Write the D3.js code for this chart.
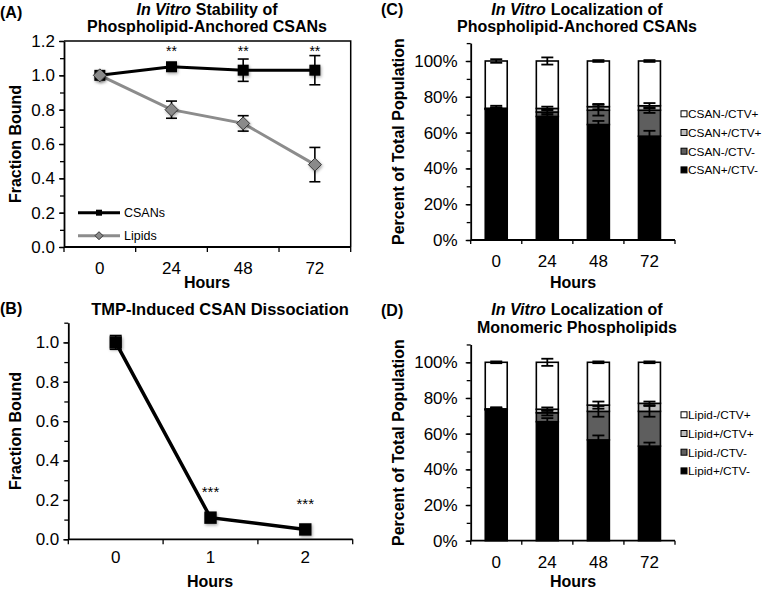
<!DOCTYPE html>
<html><head><meta charset="utf-8">
<script src="https://cdn.jsdelivr.net/npm/d3@7"></script>
<style>
body{margin:0;background:#fff}
svg{display:block}
text{font-family:"Liberation Sans", Arial, Helvetica, sans-serif}
</style>
</head><body>
<svg id="chart" width="767" height="591"></svg>
<script>
// ---------- DATA ----------
// Panel A
const hoursA = ["0", "24", "48", "72"];
const csanA = [1.00, 1.05, 1.03, 1.03];
const csanAErr = [0.01, 0.01, 0.065, 0.085];
const lipidA = [1.00, 0.80, 0.72, 0.48];
const lipidAErr = [0.0, 0.05, 0.045, 0.10];
const starsA = ["", "**", "**", "**"];
const yTicksA = [0, 0.2, 0.4, 0.6, 0.8, 1.0, 1.2];

// Panel B
const hoursB = ["0", "1", "2"];
const csanB = [1.00, 0.11, 0.05];
const csanBErr = [0.035, 0.01, 0.01];
const starsB = ["", "***", "***"];
const yTicksB = [0, 0.2, 0.4, 0.6, 0.8, 1.0];

// Panels C and D (percent, stacked bottom -> top)
const hoursCD = ["0", "24", "48", "72"];
const yTicksCD = [0, 0.2, 0.4, 0.6, 0.8, 1.0];
const legendC = ["CSAN-/CTV+", "CSAN+/CTV+", "CSAN-/CTV-", "CSAN+/CTV-"];
const legendD = ["Lipid-/CTV+", "Lipid+/CTV+", "Lipid-/CTV-", "Lipid+/CTV-"];
// C: CSAN+/CTV- (black), CSAN-/CTV- (dark grey), CSAN+/CTV+ (light grey), CSAN-/CTV+ (white)
const cPosNeg = [73, 69, 64.5, 58];
const cNegNeg = [0.3, 2.5, 8, 14.5];
const cPosPos = [0.3, 2, 2, 2.5];
const cNegPos = [26.4, 26.5, 25.5, 25];
const cPosNegErr = [2, 2, 2, 3];
const cNegNegErr = [0.5, 1.5, 3, 1.5];
const cPosPosErr = [0.5, 1, 1.5, 1.5];
const cNegPosErr = [1, 2, 0.5, 0.5];
// D
const dPosNeg = [73.3, 66.7, 56.5, 53];
const dNegNeg = [0.3, 5, 16, 19.5];
const dPosPos = [0.3, 2, 3.5, 4.5];
const dNegPos = [26.1, 26.3, 24, 23];
const dPosNegErr = [1.5, 2, 2.5, 2];
const dNegNegErr = [0.5, 1.5, 3, 3];
const dPosPosErr = [0.5, 1, 2, 1];
const dNegPosErr = [0.5, 2, 0.5, 0.5];

const segColors = ["#000000", "#5e5e5e", "#bdbdbd", "#ffffff"]; // bottom -> top
const legendColors = ["#ffffff", "#bdbdbd", "#5e5e5e", "#000000"];

// ---------- DRAW ----------
const svg = d3.select("#chart");
const defs = svg.append("defs");
const f = defs.append("filter").attr("id", "shadow").attr("x", "-50%").attr("y", "-50%").attr("width", "200%").attr("height", "200%");
f.append("feDropShadow").attr("dx", 1).attr("dy", 1.5).attr("stdDeviation", 1.6)
  .attr("flood-color", "#000").attr("flood-opacity", 0.35);

function bold(g, x, y, txt, size, anchor = "middle") {
  return g.append("text").attr("x", x).attr("y", y).attr("text-anchor", anchor)
    .attr("font-size", size).attr("font-weight", "bold").attr("fill", "#000").text(txt);
}
function titleWithItalic(g, x, y, ital, rest, size) {
  // two separate texts placed side by side with a word gap, centred together on x
  const a = g.append("text").attr("y", y).attr("font-size", size).attr("font-weight", "bold")
    .attr("font-style", "italic").text(ital);
  const b = g.append("text").attr("y", y).attr("font-size", size).attr("font-weight", "bold").text(rest);
  const wa = a.node().getComputedTextLength();
  const wb = b.node().getComputedTextLength();
  const gap = size * 0.3;
  const start = x - (wa + gap + wb) / 2;
  a.attr("x", start);
  b.attr("x", start + wa + gap);
}

function yAxis(g, y, x0, ticks, fmt, top, minorStep, fs, pad) {
  const minor = d3.range(0, top + 1e-9, minorStep);
  g.append("g").attr("transform", `translate(${x0},0)`)
    .call(d3.axisLeft(y).tickValues(minor).tickSize(4).tickFormat(""))
    .call(s => s.select(".domain").remove())
    .call(s => s.selectAll("line").attr("stroke", "#000").attr("stroke-width", 1.3));
  g.append("g").attr("transform", `translate(${x0},0)`)
    .call(d3.axisLeft(y).tickValues(ticks).tickSize(5).tickSizeOuter(0).tickPadding(pad).tickFormat(fmt))
    .call(s => s.select(".domain").attr("stroke", "#000").attr("stroke-width", 1.8))
    .call(s => s.selectAll("line").attr("stroke", "#000").attr("stroke-width", 1.3))
    .call(s => s.selectAll("text").attr("font-size", fs).attr("fill", "#000")
      .attr("font-family", '"Liberation Sans", Arial, sans-serif'));
}
function xAxis(g, x, y0, fs, labelPad) {
  const r = x.range();
  g.append("line").attr("x1", r[0]).attr("x2", r[1]).attr("y1", y0).attr("y2", y0)
    .attr("stroke", "#000").attr("stroke-width", 1.8);
  const step = x.step();
  const starts = x.domain().map((d, i) => r[0] + i * step).concat([r[1]]);
  g.selectAll(null).data(starts).join("line")
    .attr("x1", d => d).attr("x2", d => d).attr("y1", y0).attr("y2", y0 + 5)
    .attr("stroke", "#000").attr("stroke-width", 1.3);
  g.selectAll(null).data(x.domain()).join("text")
    .attr("x", d => x(d) + x.bandwidth() / 2).attr("y", y0 + labelPad)
    .attr("text-anchor", "middle").attr("font-size", fs).attr("fill", "#000").text(d => d);
}
function errBar(g, cx, yTop, yBot, cap, w) {
  g.append("line").attr("x1", cx).attr("x2", cx).attr("y1", yTop).attr("y2", yBot).attr("stroke", "#000").attr("stroke-width", w);
  g.append("line").attr("x1", cx - cap / 2).attr("x2", cx + cap / 2).attr("y1", yTop).attr("y2", yTop).attr("stroke", "#000").attr("stroke-width", w);
  g.append("line").attr("x1", cx - cap / 2).attr("x2", cx + cap / 2).attr("y1", yBot).attr("y2", yBot).attr("stroke", "#000").attr("stroke-width", w);
}

// ===== Panel A =====
{
  const g = svg.append("g");
  const x = d3.scaleBand().domain(hoursA).range([64, 350.7]).padding(0);
  const y = d3.scaleLinear().domain([0, 1.2]).range([247, 41]);
  const cx = d => x(d) + x.bandwidth() / 2;
  g.append("path").attr("d", `M${x.range()[0]},${y(1.2)}H${x.range()[1]}V${y(0)}`)
    .attr("fill", "none").attr("stroke", "#000").attr("stroke-width", 1.5);
  yAxis(g, y, 64, yTicksA, d3.format(".1f"), 1.2, 0.1, 17, 4);
  xAxis(g, x, 247, 17, 27);
  bold(g, 207, 288, "Hours", 16);
  bold(g, 0, 0, "Fraction Bound", 16).attr("transform", `translate(21,${(41 + 247) / 2}) rotate(-90)`);
  bold(g, 0, 18, "(A)", 16, "start");
  titleWithItalic(g, 207, 14.5, "In Vitro", "Stability of", 16);
  bold(g, 207, 32, "Phospholipid-Anchored CSANs", 16);

  const line = d3.line().x((d, i) => cx(hoursA[i])).y(d => y(d));
  g.append("path").datum(lipidA).attr("d", line).attr("fill", "none").attr("stroke", "#8c8c8c").attr("stroke-width", 3);
  g.append("path").datum(csanA).attr("d", line).attr("fill", "none").attr("stroke", "#000").attr("stroke-width", 3);
  hoursA.forEach((h, i) => {
    if (csanAErr[i] > 0.012) errBar(g, cx(h), y(csanA[i] + csanAErr[i]), y(csanA[i] - csanAErr[i]), 11, 1.6);
    if (lipidAErr[i] > 0) errBar(g, cx(h), y(lipidA[i] + lipidAErr[i]), y(lipidA[i] - lipidAErr[i]), 11, 1.6);
  });
  g.selectAll(null).data(csanA).join("rect")
    .attr("x", (d, i) => cx(hoursA[i]) - 5.5).attr("y", d => y(d) - 5.5).attr("width", 11).attr("height", 11)
    .attr("fill", "#000").attr("filter", "url(#shadow)");
  g.selectAll(null).data(lipidA).join("path")
    .attr("d", (d, i) => { const X = cx(hoursA[i]), Y = y(d); return `M${X},${Y - 6.5}L${X + 6.5},${Y}L${X},${Y + 6.5}L${X - 6.5},${Y}Z`; })
    .attr("fill", "#8a8a8a").attr("stroke", "#333").attr("stroke-width", 1).attr("filter", "url(#shadow)");
  g.selectAll(null).data(starsA).join("text")
    .attr("x", (d, i) => cx(hoursA[i])).attr("y", y(1.15) + 6)
    .attr("text-anchor", "middle").attr("font-size", 14).attr("fill", "#000").text(d => d);
  const lg = g.append("g");
  lg.append("line").attr("x1", 78).attr("x2", 120).attr("y1", 212.7).attr("y2", 212.7).attr("stroke", "#000").attr("stroke-width", 3);
  lg.append("rect").attr("x", 96).attr("y", 209.7).attr("width", 6).attr("height", 6).attr("fill", "#000");
  lg.append("line").attr("x1", 78).attr("x2", 120).attr("y1", 235.7).attr("y2", 235.7).attr("stroke", "#8c8c8c").attr("stroke-width", 3);
  lg.append("path").attr("d", "M99,231.7L103,235.7L99,239.7L95,235.7Z").attr("fill", "#8a8a8a").attr("stroke", "#333").attr("stroke-width", 1);
  lg.append("text").attr("x", 124).attr("y", 217).attr("font-size", 12.5).text("CSANs");
  lg.append("text").attr("x", 124).attr("y", 240).attr("font-size", 12.5).text("Lipids");
}

// ===== Panel B =====
{
  const g = svg.append("g");
  const x = d3.scaleBand().domain(hoursB).range([68.3, 352.7]).padding(0);
  const y = d3.scaleLinear().domain([0, 1.1]).range([539.3, 322.7]);
  const cx = d => x(d) + x.bandwidth() / 2;
  yAxis(g, y, 68.3, yTicksB, d3.format(".1f"), 1.1, 0.1, 17, 4);
  xAxis(g, x, 539.3, 17, 24);
  bold(g, 210, 587, "Hours", 16);
  bold(g, 0, 0, "Fraction Bound", 16).attr("transform", `translate(21,${(322.7 + 539.3) / 2}) rotate(-90)`);
  bold(g, 0, 314, "(B)", 16, "start");
  bold(g, 220, 315, "TMP-Induced CSAN Dissociation", 16.5);
  const line = d3.line().x((d, i) => cx(hoursB[i])).y(d => y(d));
  g.append("path").datum(csanB).attr("d", line).attr("fill", "none").attr("stroke", "#000").attr("stroke-width", 3.5);
  hoursB.forEach((h, i) => {
    if (csanBErr[i] > 0.012) errBar(g, cx(h), y(csanB[i] + csanBErr[i]), y(csanB[i] - csanBErr[i]), 12, 1.6);
  });
  g.selectAll(null).data(csanB).join("rect")
    .attr("x", (d, i) => cx(hoursB[i]) - 6.2).attr("y", d => y(d) - 6.2).attr("width", 12.4).attr("height", 12.4)
    .attr("fill", "#000").attr("filter", "url(#shadow)");
  g.selectAll(null).data(starsB).join("text")
    .attr("x", (d, i) => cx(hoursB[i])).attr("y", (d, i) => y(csanB[i] + 0.14) + 7)
    .attr("text-anchor", "middle").attr("font-size", 15).attr("fill", "#000").text(d => d);
}

// ===== Panels C & D =====
function stackPanel(y0, y100, segs, errs, legend, letter, t1rest, t2, legY) {
  const g = svg.append("g");
  const x = d3.scaleBand().domain(hoursCD).range([470.7, 675]).paddingInner(0.57).paddingOuter(0.285);
  const y = d3.scaleLinear().domain([0, 1.1]).range([y0, y0 - (y0 - y100) * 1.1]);
  yAxis(g, y, 470.7, yTicksCD, d3.format(".0%"), 1.1, 0.1, 17, 8);
  const step = x.step();
  const r = x.range();
  g.append("line").attr("x1", r[0]).attr("x2", r[1]).attr("y1", y0).attr("y2", y0).attr("stroke", "#000").attr("stroke-width", 1.8);
  g.selectAll(null).data(d3.range(hoursCD.length + 1)).join("line")
    .attr("x1", i => r[0] + i * step).attr("x2", i => r[0] + i * step).attr("y1", y0).attr("y2", y0 + 4)
    .attr("stroke", "#000").attr("stroke-width", 1.3);
  g.selectAll(null).data(hoursCD).join("text")
    .attr("x", d => x(d) + x.bandwidth() / 2).attr("y", y0 + 27)
    .attr("text-anchor", "middle").attr("font-size", 17).attr("fill", "#000").text(d => d);
  bold(g, 573, Math.min(y0 + 48, 587), "Hours", 16);
  bold(g, 0, 0, "Percent of Total Population", 16).attr("transform", `translate(404,${(y0 + y(1.1)) / 2}) rotate(-90)`);
  bold(g, 381, y0 - 225, letter, 16, "start");
  titleWithItalic(g, 577, y0 - 225.5, "In Vitro", t1rest, 16);
  bold(g, 577, y0 - 208, t2, 16);

  const rows = hoursCD.map((h, i) => {
    const o = { h };
    segs.forEach((s, k) => o["s" + k] = s[i] / 100);
    return o;
  });
  const keys = segs.map((s, k) => "s" + k);
  const stacked = d3.stack().keys(keys)(rows);
  stacked.forEach((layer, k) => {
    g.selectAll(null).data(layer).join("rect")
      .attr("x", d => x(d.data.h)).attr("width", x.bandwidth())
      .attr("y", d => y(d[1])).attr("height", d => y(d[0]) - y(d[1]))
      .attr("fill", segColors[k]).attr("stroke", "#000").attr("stroke-width", 1.6);
  });
  stacked.forEach((layer, k) => {
    layer.forEach((d, i) => {
      const e = errs[k][i] / 100;
      const cx = x(d.data.h) + x.bandwidth() / 2;
      errBar(g, cx, y(d[1] + e), y(d[1] - e), 12, 1.8);
    });
  });
  const lg = g.append("g");
  legend.forEach((txt, i) => {
    const yy = legY + i * 18.7;
    lg.append("rect").attr("x", 681).attr("y", yy - 3.2).attr("width", 6).attr("height", 6)
      .attr("fill", legendColors[i]).attr("stroke", "#000").attr("stroke-width", 1);
    lg.append("text").attr("x", 688).attr("y", yy + 4.2).attr("font-size", 11.8).attr("fill", "#000").text(txt);
  });
}
stackPanel(240, 61, [cPosNeg, cNegNeg, cPosPos, cNegPos], [cPosNegErr, cNegNegErr, cPosPosErr, cNegPosErr],
  legendC, "(C)", "Localization of", "Phospholipid-Anchored CSANs", 114);
stackPanel(540.7, 362.3, [dPosNeg, dNegNeg, dPosPos, dNegPos], [dPosNegErr, dNegNegErr, dPosPosErr, dNegPosErr],
  legendD, "(D)", "Localization of", "Monomeric Phospholipids", 415);
</script>
</body></html>
